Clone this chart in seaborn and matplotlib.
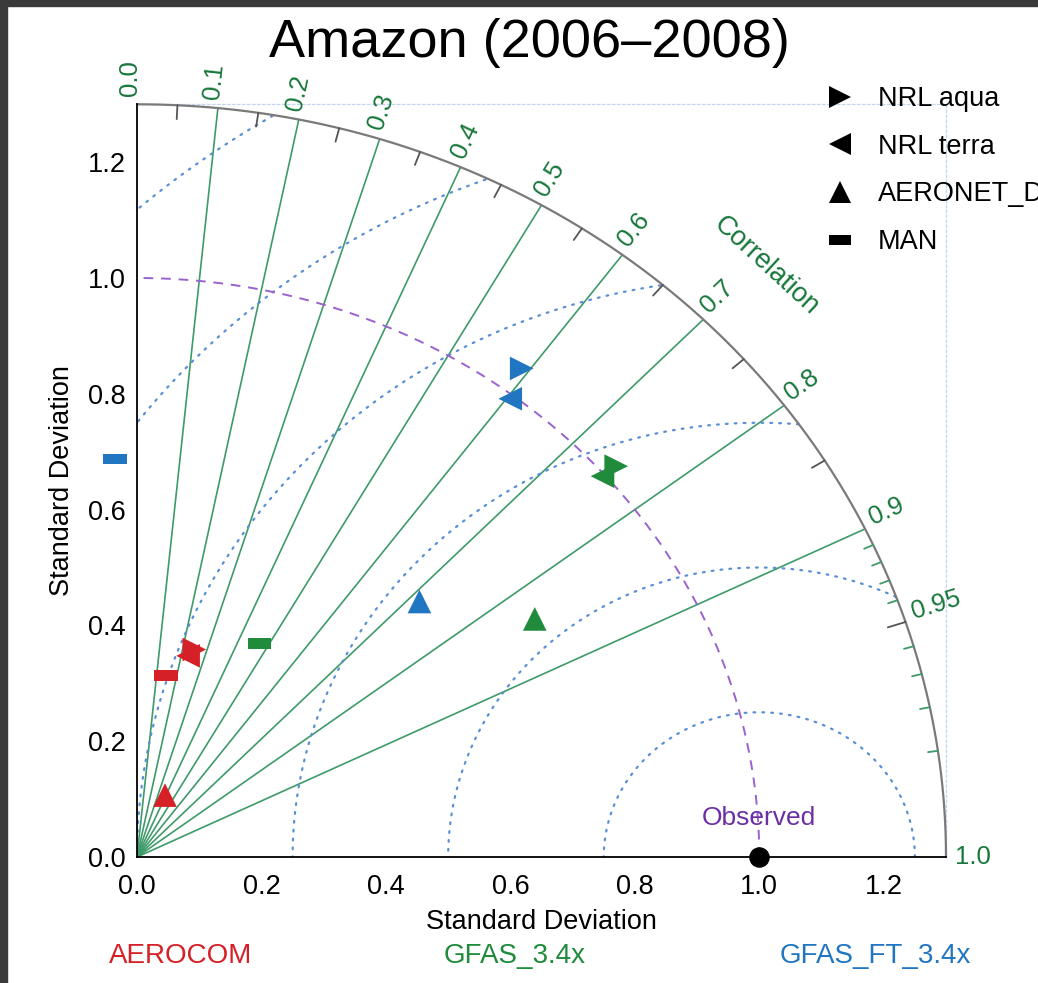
import numpy as np
import pandas as pd
import matplotlib
matplotlib.use("Agg")
import matplotlib.pyplot as plt
import seaborn as sns
from matplotlib.lines import Line2D
from matplotlib.patches import Rectangle
from matplotlib.ticker import MultipleLocator, FormatStrFormatter

sns.set_theme(style="white")
plt.rcParams["font.family"] = ["Liberation Sans", "DejaVu Sans"]
plt.rcParams["text.color"] = "black"
plt.rcParams["axes.labelcolor"] = "black"
plt.rcParams["xtick.color"] = "black"
plt.rcParams["ytick.color"] = "black"

# ---- Taylor statistics (normalised standard deviation, correlation) ----
models = ["AEROCOM"] * 4 + ["GFAS_3.4x"] * 4 + ["GFAS_FT_3.4x"] * 4
datasets = ["NRL aqua", "NRL terra", "AERONET_D", "MAN"] * 3
std_norm = [0.370, 0.357, 0.116, 0.317,
            1.024, 0.996, 0.760, 0.418,
            1.046, 0.993, 0.633, 0.688]
correlation = [0.249, 0.230, 0.388, 0.148,
               0.752, 0.751, 0.841, 0.471,
               0.591, 0.604, 0.717, -0.051]
obs_std = 1.0

model_colors = {"AEROCOM": "#d62027", "GFAS_3.4x": "#1f8b3b", "GFAS_FT_3.4x": "#2176c1"}
dataset_order = ["NRL aqua", "NRL terra", "AERONET_D", "MAN"]

# grid definitions
r_max = 1.3
corr_lines = [0.1, 0.2, 0.3, 0.4, 0.5, 0.6, 0.7, 0.8, 0.9]
corr_labels = [0.0, 0.1, 0.2, 0.3, 0.4, 0.5, 0.6, 0.7, 0.8, 0.9, 0.95, 1.0]
corr_minor = [0.05, 0.15, 0.25, 0.35, 0.45, 0.55, 0.65, 0.75, 0.85]
corr_fine = [0.91, 0.92, 0.93, 0.94, 0.96, 0.97, 0.98, 0.99]
rms_radii = [0.25, 0.5, 0.75, 1.0, 1.25, 1.5]
std_ticks = [0.0, 0.2, 0.4, 0.6, 0.8, 1.0, 1.2]

df = pd.DataFrame({"model": models, "dataset": datasets,
                   "std": std_norm, "corr": correlation})
df["x"] = df["std"] * df["corr"]
df["y"] = df["std"] * np.sqrt(1 - df["corr"] ** 2)

W, H = 1038, 983
fig = plt.figure(figsize=(W / 100, H / 100), dpi=100)
fig.patch.set_facecolor("white")
ax = fig.add_axes([137 / W, 126 / H, 809 / W, 752.7 / H])
ax.set_facecolor("white")
ax.set_xlim(0, r_max)
ax.set_ylim(0, r_max)

# pixel scale of the data axes (used to orient text radially)
sx = 809 / r_max
sy = 752.7 / r_max

# correlation rays
green_line = "#3f9a6a"
green_text = "#17773a"
for c in corr_lines:
    th = np.arccos(c)
    ax.plot([0, r_max * np.cos(th)], [0, r_max * np.sin(th)],
            color=green_line, lw=1.2, zorder=2)

# centred RMS difference circles around the reference point
phi = np.linspace(0, np.pi, 800)
for R in rms_radii:
    cx = obs_std + R * np.cos(phi)
    cy = R * np.sin(phi)
    keep = (np.hypot(cx, cy) <= r_max) & (cx >= 0)
    cx = np.where(keep, cx, np.nan)
    cy = np.where(keep, cy, np.nan)
    ax.plot(cx, cy, color="#5a8fd4", lw=1.6, ls=(0, (0.8, 3.2)),
            dash_capstyle="round", zorder=2)

# reference standard-deviation arc
t = np.linspace(0, np.pi / 2, 400)
ax.plot(obs_std * np.cos(t), obs_std * np.sin(t), color="#9a62cf",
        lw=1.4, ls=(0, (5, 4)), zorder=2)

# outer arc
ax.plot(r_max * np.cos(t), r_max * np.sin(t), color="#7a7a7a", lw=1.6,
        zorder=3, clip_on=False)


def arc_tick(c, length, color):
    th = np.arccos(c)
    ax.plot([r_max * np.cos(th), (r_max - length) * np.cos(th)],
            [r_max * np.sin(th), (r_max - length) * np.sin(th)],
            color=color, lw=1.3, zorder=3)


# tick marks along the outer arc
for c in corr_minor:
    arc_tick(c, 0.024, "#555555")
for c in corr_fine:
    arc_tick(c, 0.016, green_line)
arc_tick(0.95, 0.03, "#555555")

# correlation labels
for c in corr_labels:
    th = np.arccos(c)
    r_lab = r_max + 0.014
    rot = np.degrees(np.arctan2(np.sin(th) * sy, np.cos(th) * sx))
    va = "center" if c == 1.0 else "baseline"
    ax.text(r_lab * np.cos(th), r_lab * np.sin(th), f"{c:g}" if c == 0.95 else f"{c:.1f}",
            rotation=rot, rotation_mode="anchor", ha="left", va=va,
            color=green_text, fontsize=18.5, clip_on=False)

th_c = np.radians(45.3)
ax.text(1.437 * np.cos(th_c), 1.437 * np.sin(th_c), "Correlation",
        rotation=np.degrees(np.arctan2(-np.cos(th_c) * sy, np.sin(th_c) * sx)),
        rotation_mode="anchor", ha="center", va="center",
        color=green_text, fontsize=19.5, clip_on=False)

# model points
man_marker = [(-1, -0.45), (1, -0.45), (1, 0.45), (-1, 0.45), (-1, -0.45)]
marker_map = {"NRL aqua": ">", "NRL terra": "<", "AERONET_D": "^", "MAN": man_marker}
sns.scatterplot(data=df, x="x", y="y", hue="model", style="dataset",
                palette=model_colors, markers=marker_map,
                style_order=dataset_order, hue_order=list(model_colors),
                s=290, linewidth=0, legend=False, zorder=5, ax=ax)
ax.collections[-1].set_clip_on(False)

# observed reference
ax.scatter([obs_std], [0.0], s=190, color="black", zorder=6, clip_on=False)
ax.text(obs_std, 0.067, "Observed", color="#6a2fa3", fontsize=19,
        ha="center", va="center", zorder=6)

# axes, ticks and frame
ax.set_xticks(std_ticks)
ax.set_yticks(std_ticks)
ax.xaxis.set_minor_locator(MultipleLocator(0.05))
ax.yaxis.set_minor_locator(MultipleLocator(0.05))
ax.xaxis.set_major_formatter(FormatStrFormatter("%.1f"))
ax.yaxis.set_major_formatter(FormatStrFormatter("%.1f"))
ax.tick_params(which="major", direction="in", length=11, width=1.2,
               colors="black", labelcolor="black", labelsize=19.5)
ax.tick_params(which="minor", direction="in", length=5, width=1.1, colors="black")
ax.tick_params(axis="x", which="major", pad=12)
ax.tick_params(axis="y", which="major", pad=8)
ax.tick_params(top=False, right=False, which="both")
for side in ["left", "bottom"]:
    ax.spines[side].set_color("black")
    ax.spines[side].set_linewidth(1.3)
    ax.spines[side].set_zorder(4)
for side in ["top", "right"]:
    ax.spines[side].set_color("#c4d5ee")
    ax.spines[side].set_linewidth(0.9)
    ax.spines[side].set_linestyle((0, (2, 2)))
    ax.spines[side].set_zorder(1)

ax.set_xlabel("Standard Deviation", fontsize=19.5, labelpad=7, color="black")
ax.set_ylabel("Standard Deviation", fontsize=19.5, labelpad=9, color="black")

# dataset legend (marker shapes)
handles = [Line2D([], [], ls="none", marker=marker_map[d], color="black",
                  markersize=16.5, markeredgewidth=0) for d in dataset_order]
ax.legend(handles, dataset_order, loc="upper left", frameon=False,
          bbox_to_anchor=(826 / W, 1 - 86 / H), bbox_transform=fig.transFigure,
          borderaxespad=0, borderpad=0, fontsize=19.5, handlelength=1.0,
          handletextpad=0.92, labelspacing=0.80)

# title and model names
fig.text(529 / W, 1 - 43 / H, "Amazon (2006\u20132008)", fontsize=39,
         ha="center", va="center", color="black")
model_xpos = {"AEROCOM": 181, "GFAS_3.4x": 515, "GFAS_FT_3.4x": 875}
for m, col in model_colors.items():
    fig.text(model_xpos[m] / W, 1 - 956 / H, m, color=col, fontsize=20,
             ha="center", va="center")

# dark frame strips on the left and top edges
fig.patches.append(Rectangle((0, 0), 7 / W, 1, transform=fig.transFigure,
                             color="#3a3a3a", zorder=10))
fig.patches.append(Rectangle((0, 1 - 6 / H), 1, 6 / H, transform=fig.transFigure,
                             color="#3a3a3a", zorder=10))

fig.savefig("out.png", dpi=100)
